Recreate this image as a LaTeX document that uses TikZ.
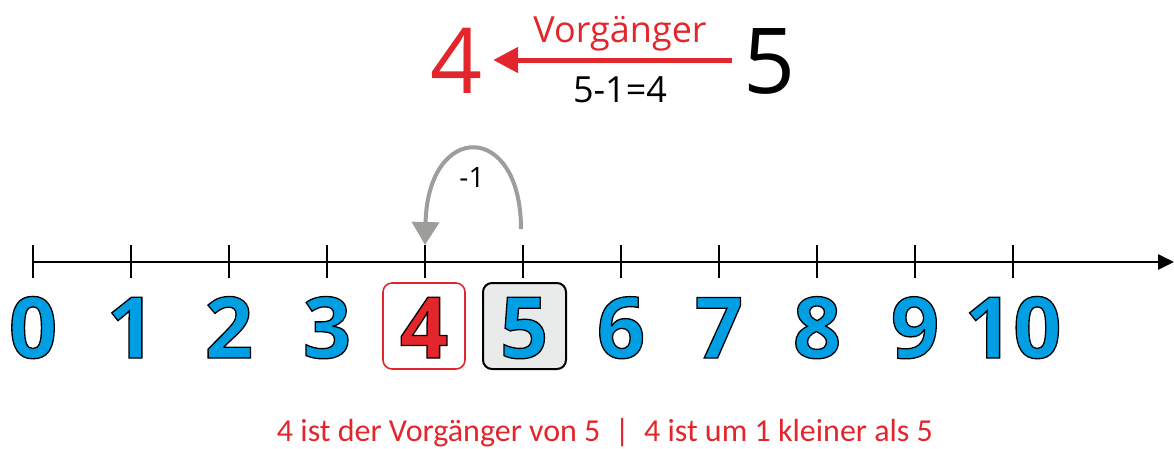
\documentclass[tikz,border=0pt]{standalone}
\usepackage{fontspec}
\setmainfont{Open Sans}
\newfontfamily\calfont{Carlito}
\usetikzlibrary{arrows.meta}
\definecolor{myred}{HTML}{E3262B}
\definecolor{myblue}{HTML}{009FE3}
\definecolor{mygrey}{HTML}{9D9D9C}
\definecolor{boxgrey}{HTML}{E9EAEA}
\newcommand\outlinedtext[2]{{\color{#1}\special{pdf:literal direct 2 Tr 0 0 0 RG 1.3 w}#2\special{pdf:literal direct 0 Tr}}}
\tikzset{
  axis/.style={line width=2.6pt, -{Triangle[length=16pt,width=15pt]}},
  tickmark/.style={line width=2.4pt},
  numlabel/.style={anchor=base, inner sep=0pt, font=\bfseries\fontsize{85}{85}\selectfont},
  redbox/.style={draw=myred, line width=1.6pt, rounded corners=9pt, minimum width=82pt, minimum height=86pt},
  greybox/.style={draw=black, fill=boxgrey, line width=2pt, rounded corners=9pt, minimum width=83pt, minimum height=86pt},
  bignum/.style={anchor=base, inner sep=0pt, font=\fontsize{91}{91}\selectfont},
  redarrow/.style={draw=myred, line width=5pt, -{Triangle[length=25pt,width=25pt]}},
  jump/.style={draw=mygrey, line width=4pt, -{Triangle[length=23pt,width=27pt]}},
}
\begin{document}
\begin{tikzpicture}[x=1pt,y=-1pt]
\useasboundingbox (0,0) rectangle (1174,448);
% number line
\coordinate (ls) at (33,262);
\coordinate (le) at (1174,262);
\draw[axis] (ls) -- (le);
\foreach \i in {0,...,10}{
  \coordinate (tt\i) at (33+98*\i,245);
  \coordinate (tb\i) at (33+98*\i,278);
  \draw[tickmark] (tt\i) -- (tb\i);
}
% boxes
\node[redbox] (box4) at (424,326) {};
\node[greybox] (box5) at (524.5,326) {};
% digits
\node[numlabel] (n0) at (33,358) {\outlinedtext{myblue}{0}};
\node[numlabel] (n1) at (131,358) {\outlinedtext{myblue}{1}};
\node[numlabel] (n2) at (229,358) {\outlinedtext{myblue}{2}};
\node[numlabel] (n3) at (327,358) {\outlinedtext{myblue}{3}};
\node[numlabel] (n4) at (424,358) {\outlinedtext{myred}{4}};
\node[numlabel] (n5) at (524,358) {\outlinedtext{myblue}{5}};
\node[numlabel] (n6) at (621,358) {\outlinedtext{myblue}{6}};
\node[numlabel] (n7) at (719,358) {\outlinedtext{myblue}{7}};
\node[numlabel] (n8) at (817,358) {\outlinedtext{myblue}{8}};
\node[numlabel] (n9) at (915,358) {\outlinedtext{myblue}{9}};
\node[numlabel] (n10) at (1013,358) {\outlinedtext{myblue}{10}};
% jump arrow
\coordinate (js) at (521,229);
\coordinate (je) at (425,245);
\draw[jump] (js) .. controls (521,121) and (428,121) .. (je);
\node[anchor=base, inner sep=0pt, font=\fontsize{28}{28}\selectfont] (m1) at (472,187) {-1};
% top
\node[bignum, text=myred] (top4) at (457,93) {4};
\node[bignum, text=black] (top5) at (770,93) {5};
\draw[redarrow, shorten <=12pt, shorten >=10pt] (top5.west |- 0,60) -- (top4.east |- 0,60);
\node[anchor=base, inner sep=0pt, text=myred, font=\fontsize{36}{36}\selectfont] (vg) at (620,42) {Vorgänger};
\node[anchor=base, inner sep=0pt, font=\fontsize{36}{36}\selectfont] (eq) at (620,102) {5-1=4};
% bottom
\node[anchor=base, inner sep=0pt, text=myred, font=\calfont\fontsize{32}{32}\selectfont] (cap) at (605,441) {4 ist der Vorgänger von 5~~|~~4 ist um 1 kleiner als 5};
\end{tikzpicture}
\end{document}
